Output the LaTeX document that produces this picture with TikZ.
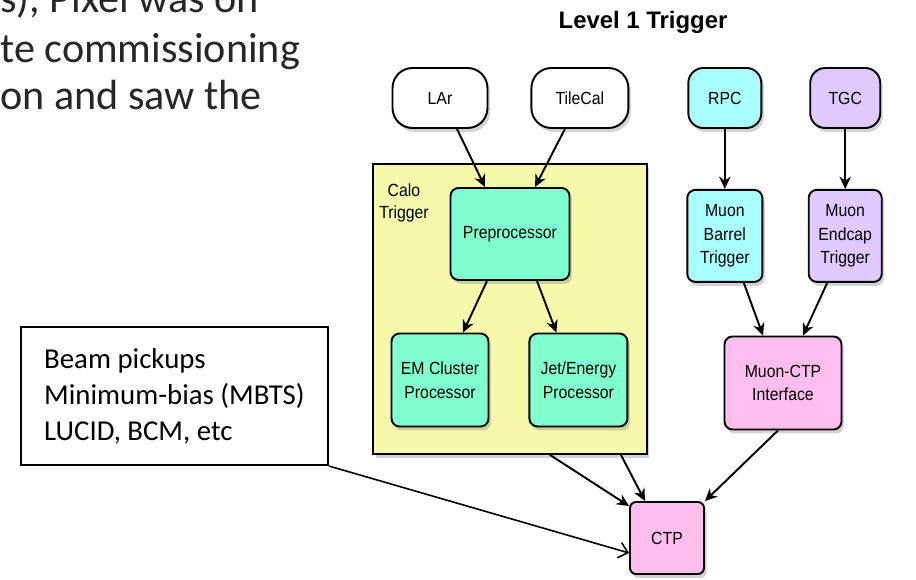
\documentclass[tikz,border=0pt]{standalone}
\usepackage{fontspec}
\setmainfont{Carlito}
\setsansfont{Liberation Sans}
\newfontfamily\boxfont[FakeStretch=0.9]{Liberation Sans}
\usepackage{tikz}
\usetikzlibrary{arrows.meta,positioning,shadows}

\definecolor{caloyellow}{RGB}{246,249,170}
\definecolor{procgreen}{RGB}{128,255,208}
\definecolor{rpccyan}{RGB}{170,255,255}
\definecolor{tgcviolet}{RGB}{225,200,255}
\definecolor{ctppink}{RGB}{255,190,238}

\begin{document}
\begin{tikzpicture}[x=0.02cm, y=-0.02cm,
    box/.style={rectangle, draw, line width=1.1pt, rounded corners=0.16cm, fill=procgreen, align=center, font=\boxfont\fontsize{10}{13.5}\selectfont, drop shadow={shadow xshift=0.05cm, shadow yshift=-0.08cm, opacity=0.35}},
    detector/.style={box, rounded corners=0.4cm, minimum height=1.2cm},
    calobox/.style={rectangle, draw, line width=1.1pt, fill=caloyellow, minimum width=5.48cm, minimum height=5.8cm, drop shadow={shadow xshift=0.05cm, shadow yshift=-0.08cm, opacity=0.35}},
    beambox/.style={rectangle, draw, line width=1.2pt, fill=white, minimum width=6.14cm, minimum height=2.76cm, align=left, font=\fontsize{16.4}{20.4}\selectfont},
    para/.style={inner sep=0pt, anchor=base west, text=black!85, font=\fontsize{24}{28}\selectfont},
    arrow/.style={->, >={Stealth[length=7pt, width=6.5pt]}, line width=1.1pt},
    openarrow/.style={->, >={Straight Barb[length=5pt, width=9pt]}, line width=0.9pt}]

    \useasboundingbox (0,0) rectangle (916,580);
    \clip (0,0) rectangle (916,580);

    % cut-off slide text
    \node[para] (txtA) at (0,13) {s), Pixel was on};
    \node[para] (txtB) at (0,63) {te commissioning};
    \node[para] (txtC) at (0,110) {on and saw the};

    \node[font=\sffamily\bfseries\fontsize{13.6}{16}\selectfont] (title) at (643,22) {Level 1 Trigger};

    % inputs
    \node[detector, fill=white, minimum width=1.9cm] (lar) at (440,98) {LAr};
    \node[detector, fill=white, minimum width=1.94cm, right=0.84cm of lar] (tilecal) {TileCal};
    \node[detector, fill=rpccyan, minimum width=1.46cm, rounded corners=0.3cm, right=1.16cm of tilecal] (rpc) {RPC};
    \node[detector, fill=tgcviolet, minimum width=1.4cm, rounded corners=0.3cm, right=0.94cm of rpc] (tgc) {TGC};

    % calorimeter trigger
    \node[calobox] (calo) at (510,309) {};
    \node[align=center, font=\boxfont\fontsize{10}{12.5}\selectfont] (calolbl) at (404,203) {Calo\\Trigger};
    \node[box, minimum width=2.38cm, minimum height=1.84cm] (prep) at (510,234) {Preprocessor};
    \node[box, minimum width=1.94cm, minimum height=1.86cm] (em) at (440,380) {EM Cluster\\Processor};
    \node[box, minimum width=1.96cm, minimum height=1.86cm, right=0.78cm of em] (jet) {Jet/Energy\\Processor};

    % muon trigger
    \node[box, fill=rpccyan, minimum width=1.5cm, minimum height=1.84cm, below=1.2cm of rpc] (barrel) {Muon\\Barrel\\Trigger};
    \node[box, fill=tgcviolet, minimum width=1.46cm, minimum height=1.84cm, below=1.2cm of tgc] (endcap) {Muon\\Endcap\\Trigger};
    \node[box, fill=ctppink, minimum width=2.34cm, minimum height=1.86cm] (muctp) at (783,383) {Muon-CTP\\Interface};

    \node[box, fill=ctppink, minimum width=1.48cm, minimum height=1.44cm, rounded corners=0.12cm] (ctp) at (667,538) {CTP};
    \node[beambox] (beam) at (174.5,396) {Beam pickups\\Minimum-bias (MBTS)\\LUCID, BCM, etc};

    \draw[arrow] ([xshift=0.34cm]lar.south) -- ([xshift=-0.5cm]prep.north);
    \draw[arrow] ([xshift=-0.3cm]tilecal.south) -- ([xshift=0.5cm]prep.north);
    \draw[arrow] ([xshift=-0.46cm]prep.south) -- ([xshift=0.46cm]em.north);
    \draw[arrow] ([xshift=0.54cm]prep.south) -- ([xshift=-0.44cm]jet.north);
    \draw[arrow] (rpc) -- (barrel);
    \draw[arrow] (tgc) -- (endcap);
    \draw[arrow] ([xshift=0.38cm]barrel.south) -- ([xshift=-0.4cm]muctp.north);
    \draw[arrow] ([xshift=-0.36cm]endcap.south) -- ([xshift=0.4cm]muctp.north);
    \draw[arrow] ([xshift=0.8cm]calo.south) -- ([yshift=-0.1cm]ctp.north west);
    \draw[arrow] ([xshift=-0.54cm]calo.south east) -- ([xshift=-0.44cm]ctp.north);
    \draw[arrow] ([xshift=-0.1cm]muctp.south) -- (ctp.north east);
    \draw[openarrow] (beam.south east) -- ([yshift=-0.3cm]ctp.west);
\end{tikzpicture}
\end{document}
